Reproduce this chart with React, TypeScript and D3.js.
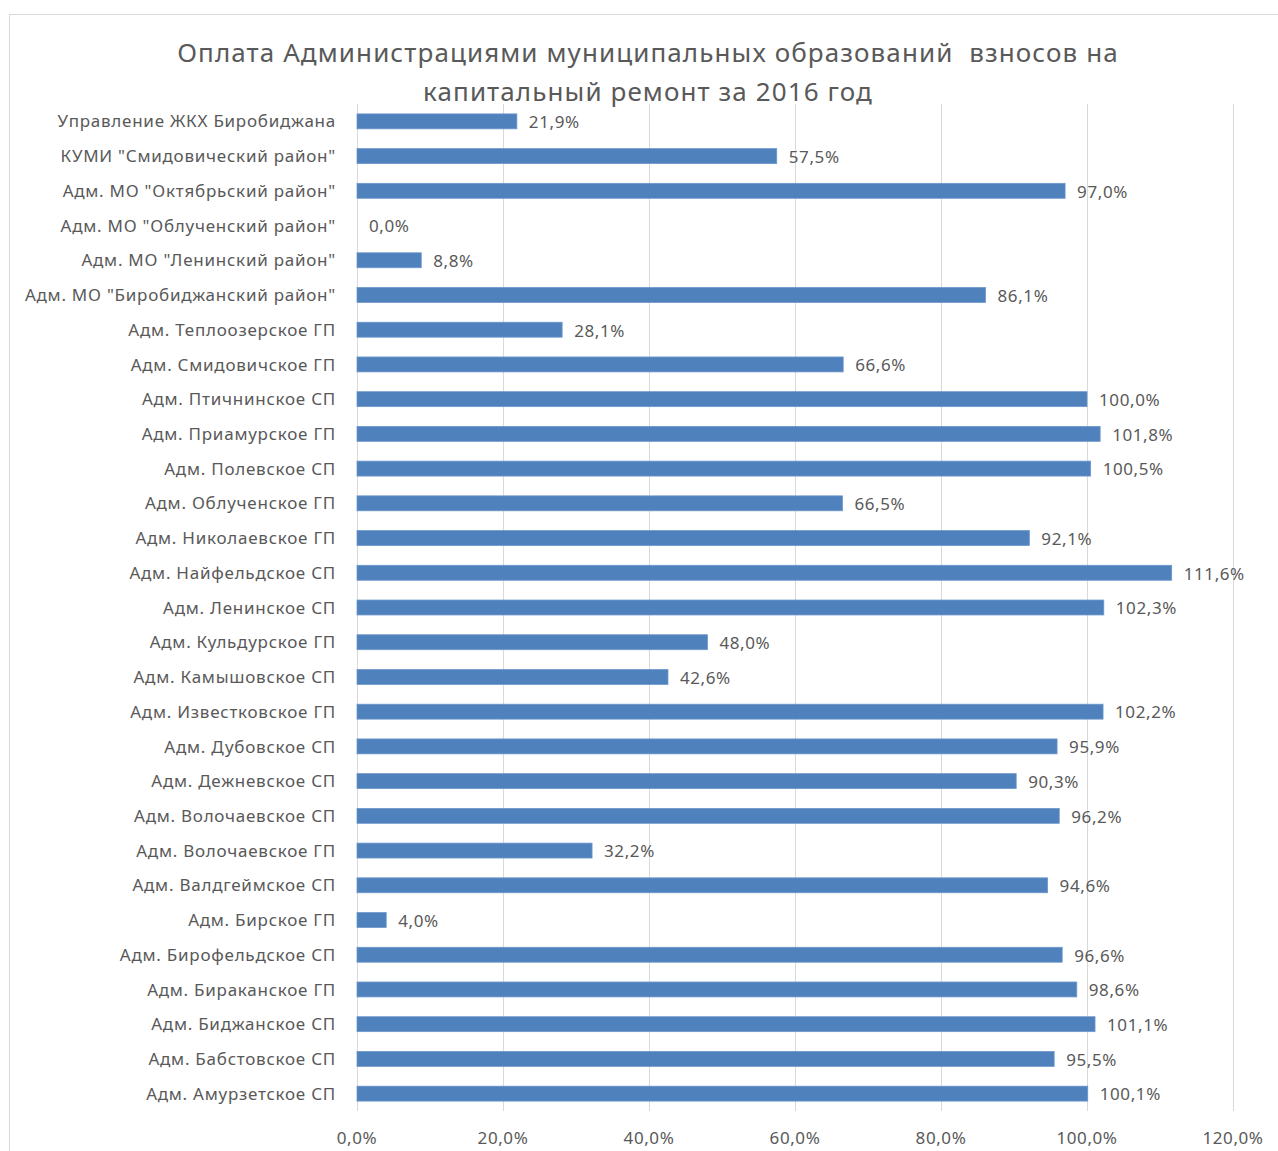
import { useEffect, useRef } from "react";
import * as d3 from "d3";

const categories = [
  "Управление ЖКХ Биробиджана",
  "КУМИ \"Смидовический район\"",
  "Адм. МО \"Октябрьский район\"",
  "Адм. МО \"Облученский район\"",
  "Адм. МО \"Ленинский район\"",
  "Адм. МО \"Биробиджанский район\"",
  "Адм. Теплоозерское ГП",
  "Адм. Смидовичское ГП",
  "Адм. Птичнинское СП",
  "Адм. Приамурское ГП",
  "Адм. Полевское СП",
  "Адм. Облученское ГП",
  "Адм. Николаевское ГП",
  "Адм. Найфельдское СП",
  "Адм. Ленинское СП",
  "Адм. Кульдурское ГП",
  "Адм. Камышовское СП",
  "Адм. Известковское ГП",
  "Адм. Дубовское СП",
  "Адм. Дежневское СП",
  "Адм. Волочаевское СП",
  "Адм. Волочаевское ГП",
  "Адм. Валдгеймское СП",
  "Адм. Бирское ГП",
  "Адм. Бирофельдское СП",
  "Адм. Бираканское ГП",
  "Адм. Биджанское СП",
  "Адм. Бабстовское СП",
  "Адм. Амурзетское СП",
];

const values = [
  21.9, 57.5, 97.0, 0.0, 8.8, 86.1, 28.1, 66.6, 100.0, 101.8, 100.5, 66.5, 92.1, 111.6,
  102.3, 48.0, 42.6, 102.2, 95.9, 90.3, 96.2, 32.2, 94.6, 4.0, 96.6, 98.6, 101.1, 95.5, 100.1,
];

const xTicks = [0, 20, 40, 60, 80, 100, 120];

const titleLines = [
  "Оплата Администрациями муниципальных образований  взносов на",
  "капитальный ремонт за 2016 год",
];

const fmt = (v: number) => v.toFixed(1).replace(".", ",") + "%";

export default function App() {
  const svgRef = useRef<SVGSVGElement>(null);
  const width = 1278;
  const height = 1151;

  useEffect(() => {
    if (!svgRef.current) return;
    const svg = d3.select(svgRef.current);
    svg.selectAll("*").remove();

    const font = "Noto Sans, sans-serif";
    const textColor = "#595959";
    const left = 357;
    const right = 1233;
    const top = 104;
    const bottom = 1111;

    // chart frame
    svg.append("rect")
      .attr("x", 9.5)
      .attr("y", 14.5)
      .attr("width", 1300)
      .attr("height", 1200)
      .attr("fill", "#fff")
      .attr("stroke", "#d9d9d9");

    const x = d3.scaleLinear().domain([0, 120]).range([left, right]);
    const y = d3.scaleBand<string>()
      .domain(categories)
      .range([top, bottom])
      .paddingInner(0.57)
      .paddingOuter(0.285);

    // gridlines
    svg.append("g")
      .selectAll("line")
      .data(xTicks)
      .enter()
      .append("line")
      .attr("x1", d => Math.round(x(d)) + 0.5)
      .attr("x2", d => Math.round(x(d)) + 0.5)
      .attr("y1", top)
      .attr("y2", bottom)
      .attr("stroke", "#d9d9d9")
      .attr("stroke-width", 1);

    // tick labels
    svg.append("g")
      .selectAll("text")
      .data(xTicks)
      .enter()
      .append("text")
      .attr("x", d => x(d))
      .attr("y", 1144)
      .attr("text-anchor", "middle")
      .attr("font-family", font)
      .attr("font-size", 17)
      .attr("letter-spacing", 0.6)
      .attr("fill", textColor)
      .text(d => fmt(d));

    const data = categories.map((c, i) => ({ c, v: values[i] }));

    // bars
    svg.append("g")
      .selectAll("rect")
      .data(data)
      .enter()
      .append("rect")
      .attr("x", x(0))
      .attr("y", d => y(d.c) as number)
      .attr("width", d => x(d.v) - x(0))
      .attr("height", y.bandwidth())
      .attr("fill", "#4f81bd")
      .attr("stroke", "#6d97cc")
      .attr("stroke-width", d => (d.v > 0 ? 0.8 : 0));

    // value labels
    svg.append("g")
      .selectAll("text")
      .data(data)
      .enter()
      .append("text")
      .attr("x", d => x(d.v) + 12)
      .attr("y", d => (y(d.c) as number) + y.bandwidth() / 2)
      .attr("dy", "0.4em")
      .attr("font-family", font)
      .attr("font-size", 17)
      .attr("letter-spacing", 0.6)
      .attr("fill", textColor)
      .text(d => fmt(d.v));

    // category labels
    svg.append("g")
      .selectAll("text")
      .data(data)
      .enter()
      .append("text")
      .attr("x", 336)
      .attr("y", d => (y(d.c) as number) + y.bandwidth() / 2)
      .attr("dy", "0.36em")
      .attr("text-anchor", "end")
      .attr("font-family", font)
      .attr("font-size", 17)
      .attr("letter-spacing", 0.75)
      .attr("fill", textColor)
      .text(d => d.c);

    // title
    svg.append("g")
      .selectAll("text")
      .data(titleLines)
      .enter()
      .append("text")
      .attr("x", 648)
      .attr("y", (_, i) => 62 + i * 39)
      .attr("text-anchor", "middle")
      .attr("font-family", font)
      .attr("font-size", 26)
      .attr("letter-spacing", 1.1)
      .attr("fill", textColor)
      .attr("xml:space", "preserve")
      .style("white-space", "pre")
      .text(d => d);
  }, []);

  return (
    <svg
      ref={svgRef}
      width={width}
      height={height}
      style={{ position: "absolute", left: 0, top: 0, background: "#fff" }}
    />
  );
}
